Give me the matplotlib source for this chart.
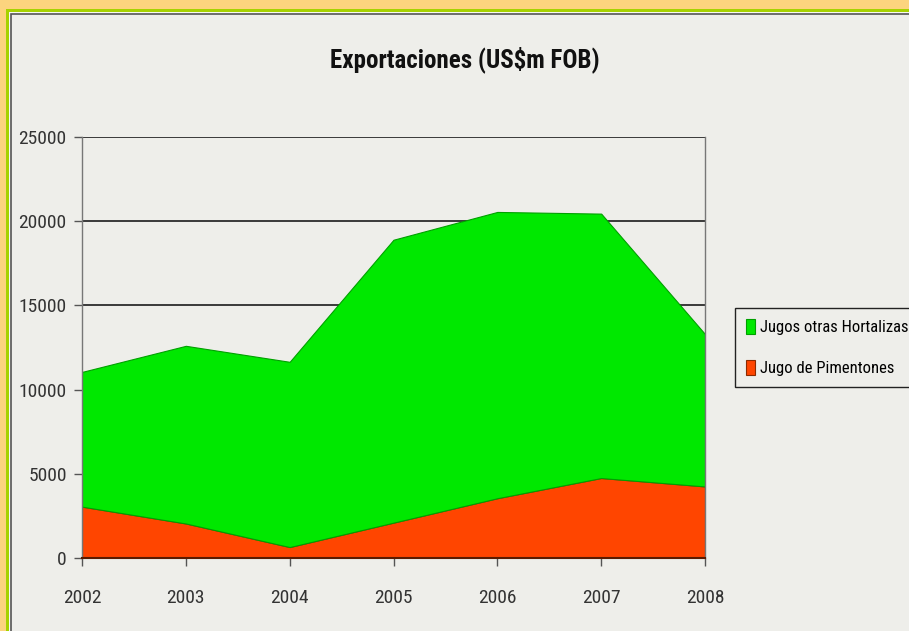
import matplotlib.pyplot as plt
from matplotlib.patches import Rectangle

# datos
years = [2002, 2003, 2004, 2005, 2006, 2007, 2008]
pimentones = [3050, 2050, 650, 2100, 3550, 4750, 4250]
otras_hortalizas = [8000, 10550, 11000, 16800, 17000, 15700, 9050]
yticks = [0, 5000, 10000, 15000, 20000, 25000]

title = 'Exportaciones (US$m FOB)'
labels = ['Jugo de Pimentones', 'Jugos otras Hortalizas']
colors = ['#FF4500', '#00E800']

narrow = ['Roboto Condensed', 'Liberation Sans', 'DejaVu Sans']

W, H = 909, 631
fig = plt.figure(figsize=(W / 100, H / 100), dpi=100)
fig.patch.set_facecolor('#FCD47E')

# marco: linea verde y panel gris
fig.patches.append(Rectangle((6 / W, -0.1), 1.2, (H - 9) / H + 0.1,
                             transform=fig.transFigure, facecolor='#A6D200',
                             edgecolor='none', zorder=-3))
fig.patches.append(Rectangle((9 / W, -0.1), 1.2, (H - 12) / H + 0.1,
                             transform=fig.transFigure, facecolor='#F8F8F4',
                             edgecolor='none', zorder=-2))
fig.patches.append(Rectangle((11 / W, -0.1), 1.2, (H - 14) / H + 0.1,
                             transform=fig.transFigure, facecolor='#EEEEEA',
                             edgecolor='#555555', linewidth=1.2, zorder=-1))

ax = fig.add_axes([82 / W, (H - 558) / H, (705 - 82) / W, (558 - 137) / H])
ax.set_facecolor('none')

stack = ax.stackplot(years, pimentones, otras_hortalizas, colors=colors,
                     labels=labels, zorder=2)
stack[0].set_edgecolor('#8B2A00')
stack[0].set_linewidth(0.8)
stack[1].set_edgecolor('#00A000')
stack[1].set_linewidth(0.8)

ax.set_xlim(2002, 2008)
ax.set_ylim(0, 25000)
ax.set_xticks(years)
ax.set_yticks(yticks)
ax.set_xticklabels([str(y) for y in years], family=narrow, fontsize=14, color='#333333')
ax.set_yticklabels([str(v) for v in yticks], family=narrow, fontsize=14, color='#333333')
ax.yaxis.grid(True, color='#3A3A3A', linewidth=1.4, zorder=0)
ax.set_axisbelow(True)
ax.tick_params(axis='both', length=6, width=1, color='#555555', pad=5)
ax.tick_params(axis='x', pad=16)

for side in ['left', 'right', 'top', 'bottom']:
    ax.spines[side].set_color('#777777')
    ax.spines[side].set_linewidth(1)
ax.spines['top'].set_visible(False)
ax.spines['bottom'].set_color('#5A1A00')
ax.spines['bottom'].set_linewidth(1.5)

# el titulo va centrado sobre toda el area del grafico (incluye la leyenda)
fig.text(465 / W, 1 - 60 / H, title, family=narrow, fontweight='bold',
         fontsize=18, ha='center', va='center', color='#111111')

handles, labs = ax.get_legend_handles_labels()
leg = fig.legend(handles[::-1], labs[::-1], loc='upper left',
                 bbox_to_anchor=(735 / W, 1 - 308 / H),
                 prop={'family': narrow, 'size': 12},
                 frameon=True, fancybox=False, edgecolor='#222222',
                 facecolor='#EEEEEA', framealpha=1, handlelength=0.55,
                 handleheight=1.0, handletextpad=0.3, labelspacing=1.5,
                 borderpad=0.65, borderaxespad=0)
leg.get_frame().set_linewidth(1)

fig.savefig('out.png', dpi=100, facecolor=fig.get_facecolor())
